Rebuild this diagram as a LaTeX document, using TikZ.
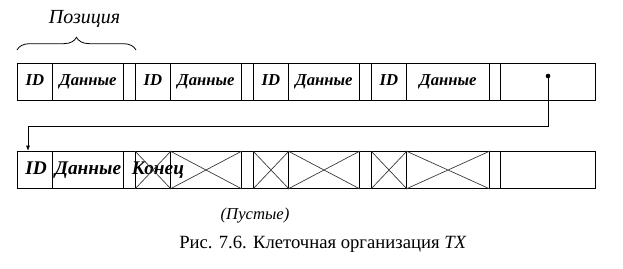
\documentclass[tikz,border=0pt]{standalone}
\usepackage{fontspec}
\setmainfont{Liberation Serif}
\usetikzlibrary{decorations.pathreplacing,arrows.meta}

\begin{document}
\begin{tikzpicture}[x=0.75pt,y=-0.75pt,
  cell/.style={draw, line width=0.75pt, inner sep=0pt, anchor=north west,
    minimum height=27.75pt, text height=8pt, text depth=2.5pt,
    font=\fontsize{12.5}{14}\selectfont\bfseries\itshape},
  big/.style={inner sep=0pt, text height=9.5pt, text depth=2.5pt,
    font=\fontsize{14.5}{16}\selectfont\bfseries\itshape},
  cross/.style={draw=black!80, line width=0.5pt}]
\useasboundingbox (0,0) rectangle (623,268);

% upper strip: ID | data | gap for each position, link cell at the end
\foreach \n/\a/\b/\t in {a/17/52/ID, b/52/123/Данные, c/123/135/, d/135/170/ID, e/170/241/Данные, f/241/253/,
    g/253/288/ID, h/288/359/Данные, i/359/371/, j/371/406/ID, k/406/489/Данные, l/489/500/, m/500/595/}
  \node[cell, minimum width={(\b-\a)*0.75pt}] (t\n) at (\a,63) {\t};

% lower strip, same layout
\foreach \n/\a/\b in {a/17/52, b/52/123, c/123/135, d/135/170, e/170/241, f/241/253,
    g/253/288, h/288/359, i/359/371, j/371/406, k/406/489, l/489/500, m/500/595}
  \node[cell, minimum width={(\b-\a)*0.75pt}] (b\n) at (\a,151) {};

\node[big] at ([xshift=0.75pt]ba.center) {ID};
\node[big] at (bb.center) {Данные};
\node[big, anchor=west] (end) at ([xshift=6.5pt]bc.west) {Конец};

% empty cells are crossed out
\foreach \n in {d,e,g,h,j,k}
  \draw[cross] (b\n.north west) -- (b\n.south east) (b\n.south west) -- (b\n.north east);

% brace over the first position
\draw[decorate, decoration={brace, amplitude=9.5pt}, line width=0.6pt]
  ([yshift=9.75pt]ta.north west) -- ([yshift=9.75pt]tc.north east)
  node[midway, above=13pt, xshift=6pt, font=\fontsize{15}{17}\selectfont\itshape] (pos) {Позиция};

% link from the last cell to the next block
\coordinate (dot) at (548,76);
\coordinate (turn) at (28,126);
\fill (dot) circle (2.3);
\draw[line width=0.75pt, -{Latex[length=4pt,width=3pt]}] (dot) |- (turn) -- (turn |- ba.north);

\node[font=\fontsize{12.5}{15}\selectfont\itshape] (empty) at (255,216) {(Пустые)};
\node[font=\fontsize{14}{16}\selectfont] (cap) at (323,244) {Рис. 7.6. Клеточная организация \textit{TX}};
\end{tikzpicture}
\end{document}
